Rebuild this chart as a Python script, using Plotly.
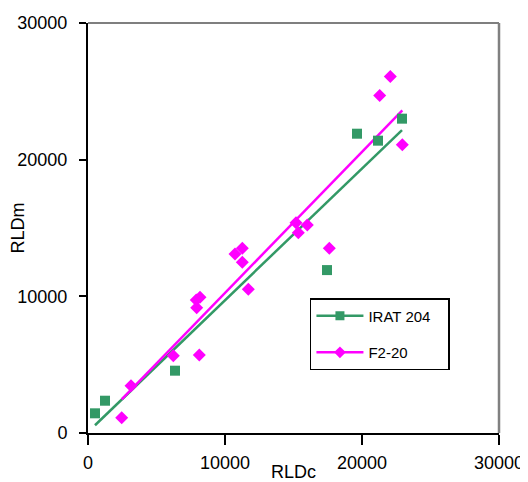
import numpy as np
import plotly.graph_objects as go

# IRAT 204 (green squares)
irat_x = [511, 1241, 6350, 17445, 19635, 21168, 22920]
irat_y = [1441, 2363, 4560, 11920, 21900, 21390, 23000]

# F2-20 (magenta diamonds)
f2_x = [2460, 3139, 6226, 8124, 7900, 8175, 7934, 10730, 11263, 11263, 11700,
        15182, 16007, 15350, 17613, 21292, 22066, 22942]
f2_y = [1120, 3460, 5660, 5710, 9730, 9930, 9170, 13100, 13510, 12490, 10510,
        15390, 15220, 14650, 13510, 24700, 26090, 21100]

tick_vals = [0, 10000, 20000, 30000]
tick_text = ["0", "10000", "20000", "30000"]

GREEN = "#339966"
MAGENTA = "#FF00FF"
FONT = "Liberation Sans, Arial, sans-serif"


def trend(xs, ys):
    m, b = np.polyfit(xs, ys, 1)
    lx = np.array([min(xs), max(xs)])
    return lx, m * lx + b


fig = go.Figure()

gx, gy = trend(irat_x, irat_y)
mx, my = trend(f2_x, f2_y)

fig.add_trace(go.Scatter(x=gx, y=gy, mode="lines", line=dict(color=GREEN, width=2.5),
                         showlegend=False, hoverinfo="skip"))
fig.add_trace(go.Scatter(x=mx, y=my, mode="lines", line=dict(color=MAGENTA, width=2.5),
                         showlegend=False, hoverinfo="skip"))
fig.add_trace(go.Scatter(x=irat_x, y=irat_y, mode="markers",
                         marker=dict(symbol="square", size=10, color=GREEN),
                         showlegend=False))
fig.add_trace(go.Scatter(x=f2_x, y=f2_y, mode="markers",
                         marker=dict(symbol="diamond", size=10, color=MAGENTA),
                         showlegend=False))

# legend entries
fig.add_trace(go.Scatter(x=[None], y=[None], mode="lines+markers",
                         name="IRAT 204&nbsp;&nbsp;&nbsp;",
                         legendgroup="a",
                         line=dict(color=GREEN, width=2.5),
                         marker=dict(symbol="square", size=9, color=GREEN)))
fig.add_trace(go.Scatter(x=[None], y=[None], mode="lines+markers", name="F2-20",
                         legendgroup="b",
                         line=dict(color=MAGENTA, width=2.5),
                         marker=dict(symbol="diamond", size=9, color=MAGENTA)))

fig.update_layout(
    width=520, height=474,
    margin=dict(l=80, r=29, t=15, b=49, autoexpand=False),
    paper_bgcolor="white", plot_bgcolor="white",
    font=dict(family=FONT, size=18, color="black"),
    legend=dict(x=0.54, y=0.329, xanchor="left", yanchor="top",
                bgcolor="white", bordercolor="black", borderwidth=1.5,
                font=dict(size=15), tracegroupgap=14, traceorder="grouped",
                itemwidth=47),
    shapes=[
        dict(type="line", xref="paper", yref="paper", x0=0, x1=1, y0=1, y1=1,
             line=dict(color="black", width=1.2)),
        dict(type="line", xref="paper", yref="paper", x0=1, x1=1, y0=0, y1=1,
             line=dict(color="#808080", width=2.5)),
    ],
)

fig.update_xaxes(range=[0, 30000], tickvals=tick_vals, ticktext=tick_text,
                 automargin=False,
                 showgrid=False, zeroline=False, showline=True, linecolor="black",
                 linewidth=2, ticks="outside", ticklen=10, tickwidth=1.5,
                 tickcolor="black", ticklabelstandoff=2,
                 title=dict(text="RLDc", standoff=0, font=dict(size=18)))
fig.update_yaxes(range=[0, 30000], tickvals=tick_vals, ticktext=tick_text,
                 automargin=False,
                 showgrid=False, zeroline=False, showline=True, linecolor="black",
                 linewidth=2, ticks="outside", ticklen=7, tickwidth=1.5,
                 tickcolor="black", ticklabelstandoff=8,
                 title=dict(text="RLDm", standoff=6, font=dict(size=18)))

fig.write_html("out.html")
